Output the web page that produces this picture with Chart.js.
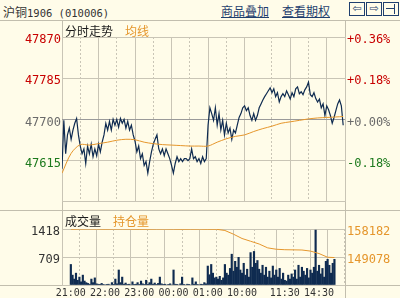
<!DOCTYPE html>
<html>
<head>
<meta charset="utf-8">
<script src="https://cdn.jsdelivr.net/npm/chart.js@4/dist/chart.umd.min.js"></script>
<style>
  body { margin: 0; width: 400px; height: 298px; overflow: hidden; position: relative; background: #fffce9; font-family: "Noto Sans CJK SC", sans-serif; }
  .abs { position: absolute; }
  .hl { position: absolute; left: 0; width: 400px; height: 1px; background: #c2beae; }
  .vl { position: absolute; width: 1px; background: #c2beae; }
  .cjk { font-size: 12px; line-height: 13px; white-space: nowrap; }
  .link { color: #1f3f6e; text-decoration: underline; }
  .icon { position: absolute; top: 2px; width: 14px; height: 12px; border: 1px solid #1f3f6e; color: #1f3f6e; font: 11px/12px "DejaVu Sans", sans-serif; text-align: center; }
  canvas { position: absolute; left: 0; }
</style>
</head>
<body>
<div class="hl" style="top:20px"></div>
<div class="hl" style="top:210px"></div>
<div class="hl" style="top:285px"></div>
<div class="vl" style="left:62px;top:20px;height:266px"></div>
<div class="vl" style="left:345px;top:20px;height:278px"></div>

<div class="abs cjk" style="left:3px;top:5px;color:#333">沪铜<span style="font-family:'DejaVu Sans Mono';font-size:10.5px">1906 (010006)</span></div>
<div class="abs cjk link" style="left:221px;top:4px">商品叠加</div>
<div class="abs cjk link" style="left:282px;top:4px">查看期权</div>
<div class="icon" style="left:349px">⇦</div>
<div class="icon" style="left:366px">⇨</div>
<div class="icon" style="left:383px"><div class="abs" style="left:2px;top:5px;width:8px;height:1px;background:#1f3f6e"></div><div class="abs" style="left:10px;top:1px;width:1px;height:10px;background:#1f3f6e"></div></div>

<canvas id="main" width="400" height="191" style="top:20px"></canvas>
<canvas id="vol" width="400" height="88" style="top:210px"></canvas>

<div class="abs cjk" style="left:65px;top:24px;color:#1a1a1a">分时走势</div>
<div class="abs cjk" style="left:125px;top:24px;color:#e5962c">均线</div>
<div class="abs cjk" style="left:65px;top:214px;color:#1a1a1a">成交量</div>
<div class="abs cjk" style="left:113px;top:214px;color:#e5962c">持仓量</div>

<script>
// 沪铜1906 分时, one sample every 3 trading minutes (21:00 .. 15:00, 465 minutes)
const STEP = 3;
const PRE_SETTLE = 47700;

const price = [
  47598, 47698, 47629, 47668, 47682, 47659, 47678, 47692, 47702, 47668,
  47645, 47629, 47639, 47609, 47645, 47629, 47649, 47623, 47639, 47625,
  47649, 47633, 47653, 47668, 47692, 47678, 47696, 47678, 47700, 47688,
  47700, 47684, 47702, 47692, 47700, 47682, 47696, 47678, 47688, 47668,
  47655, 47633, 47645, 47619, 47629, 47605, 47613, 47589, 47613, 47633,
  47649, 47659, 47668, 47639, 47629, 47639, 47625, 47639, 47629, 47619,
  47605, 47589, 47609, 47623, 47613, 47619, 47613, 47619, 47619, 47615,
  47619, 47639, 47619, 47623, 47613, 47619, 47609, 47623, 47613, 47619,
  47688, 47724, 47712, 47698, 47724, 47688, 47712, 47678, 47698, 47668,
  47692, 47672, 47682, 47659, 47678, 47672, 47688, 47704, 47712, 47724,
  47728, 47718, 47724, 47708, 47698, 47712, 47698, 47708, 47724, 47732,
  47740, 47747, 47753, 47759, 47765, 47755, 47763, 47747, 47755, 47736,
  47747, 47753, 47747, 47759, 47751, 47742, 47755, 47747, 47763, 47767,
  47753, 47757, 47751, 47761, 47767, 47777, 47751, 47747, 47755, 47743,
  47736, 47742, 47724, 47732, 47708, 47728, 47720, 47708, 47692, 47704,
  47718, 47732, 47740, 47728, 47688
];

const volume = [
  520, 250, 150, 300, 120, 200, 80, 250, 100, 60,
  40, 20, 150, 60, 180, 30, 20, 10, 40, 10,
  0, 10, 20, 0, 60, 20, 150, 30, 380, 60,
  200, 20, 50, 10, 20, 0, 80, 10, 20, 60,
  10, 100, 30, 10, 120, 20, 60, 150, 20, 50,
  10, 40, 200, 30, 10, 20, 0, 10, 30, 0,
  380, 20, 10, 0, 30, 200, 10, 0, 20, 10,
  0, 180, 20, 80, 10, 0, 20, 10, 60, 30,
  480, 260, 520, 300, 180, 200, 150, 220, 120, 180,
  520, 300, 250, 420, 780, 350, 600, 450, 700, 380,
  300, 550, 250, 400, 200, 820, 450, 850, 550, 620,
  400, 300, 500, 250, 450, 200, 350, 180, 480, 250,
  380, 200, 420, 150, 300, 120, 100, 250, 150, 280,
  200, 380, 150, 500, 200, 450, 350, 250, 420, 180,
  380, 300, 450, 1390, 350, 500, 280, 420, 200, 600,
  650, 500, 300, 550, 650
];

// 均线 and 持仓量, read every 15 minutes
const slowMinutes = [0, 15, 30, 45, 60, 75, 90, 105, 120, 135, 150, 165, 180, 195, 210, 225,
  240, 255, 270, 285, 300, 315, 330, 345, 360, 375, 390, 405, 420, 435, 450, 462];
const avgPrice = [47589, 47630, 47648, 47647, 47650, 47653, 47657, 47659, 47658, 47653, 47650, 47648, 47647, 47646, 47645, 47645,
  47645, 47653, 47660, 47665, 47668, 47675, 47681, 47686, 47692, 47695, 47698, 47701, 47703, 47704, 47705, 47706];
const openInt = [158100, 158150, 158182, 158160, 158120, 158150, 158170, 158140, 158100, 158120, 158150, 158160, 158130, 158100, 158120, 158140,
  158100, 158100, 157700, 156500, 155100, 154200, 153300, 152050, 151600, 151450, 151400, 151350, 151000, 150200, 149000, 148900];

const priceTicks = [47530, 47615, 47700, 47785, 47870];
const volTicks = [0, 709, 1418];
const oiTicks = [139974, 149078, 158182];
const gridMinutes = [0, 30, 60, 90, 120, 150, 180, 210, 240, 270, 300, 345, 375, 405, 435, 465];
const labelMinutes = [0, 60, 120, 180, 240, 300, 375, 435];
const timeLabels = ['21:00', '22:00', '23:00', '00:00', '01:00', '10:00', '11:30', '14:30'];

const pricePoints = price.map((v, i) => ({ x: i * STEP, y: v }));
const volPoints = volume.map((v, i) => ({ x: i * STEP, y: v }));
const avgPoints = avgPrice.map((v, i) => ({ x: slowMinutes[i], y: v }));
const oiPoints = openInt.map((v, i) => ({ x: slowMinutes[i], y: v }));

const GRID = '#c9c5b6';
const RED = '#c80000';
const GREEN = '#1d7a1d';
const GRAY = '#6a6a6a';
const ORANGE = '#e5962c';
const NAVY = '#0f2b50';
const MONO = { family: 'DejaVu Sans Mono', size: 12 };

function setTicks(list) {
  return scale => { scale.ticks = list.map(v => ({ value: v })); };
}
function fixWidth(w) {
  return scale => { scale.width = w; };
}
function priceColor(v) {
  if (v > PRE_SETTLE) return RED;
  if (v < PRE_SETTLE) return GREEN;
  return GRAY;
}
const isSolid = v => labelMinutes.includes(v) || v === 465;

function timeAxis(showLabels) {
  return {
    type: 'linear', min: 0, max: 465,
    afterBuildTicks: setTicks(gridMinutes),
    afterFit: s => { s.height = showLabels ? 13 : 0; },
    grid: { color: GRID, lineWidth: 1, drawTicks: false },
    border: { display: false, dash: ctx => (ctx.tick && isSolid(ctx.tick.value)) ? [] : [2, 2] },
    ticks: {
      display: showLabels, autoSkip: false, maxRotation: 0, padding: 2, color: '#333',
      font: { family: 'DejaVu Sans Mono', size: 10 },
      callback: v => { const k = labelMinutes.indexOf(v); return k < 0 ? '' : timeLabels[k]; }
    }
  };
}

const common = {
  animation: false, responsive: false, events: [],
  plugins: { legend: { display: false }, tooltip: { enabled: false } }
};

new Chart(document.getElementById('main'), {
  type: 'line',
  data: {
    datasets: [
      { data: avgPoints, borderColor: ORANGE, borderWidth: 1, pointRadius: 0, tension: 0.3 },
      { data: pricePoints, borderColor: NAVY, borderWidth: 1.2, pointRadius: 0 }
    ]
  },
  options: {
    ...common,
    layout: { padding: { top: 17, bottom: 1, left: 0, right: 0 } },
    scales: {
      x: timeAxis(false),
      y: {
        position: 'left', min: 47530, max: 47870,
        afterBuildTicks: setTicks(priceTicks), afterFit: fixWidth(62),
        grid: { drawTicks: false, color: ctx => ctx.tick && ctx.tick.value === PRE_SETTLE ? '#9a9a9a' : GRID },
        border: { display: false },
        ticks: {
          padding: 1, labelOffset: 3, font: MONO,
          color: ctx => priceColor(ctx.tick.value),
          callback: v => v === 47530 ? '' : String(v)
        }
      },
      yr: {
        position: 'right', min: 47530, max: 47870,
        afterBuildTicks: setTicks(priceTicks), afterFit: fixWidth(55),
        grid: { drawTicks: false, drawOnChartArea: false },
        border: { display: false },
        ticks: {
          padding: 2, labelOffset: 3, font: MONO,
          color: ctx => priceColor(ctx.tick.value),
          callback: v => {
            if (v === 47530) return '';
            const p = (v - PRE_SETTLE) / PRE_SETTLE * 100;
            return (p < 0 ? '-' : '+') + Math.abs(p).toFixed(2) + '%';
          }
        }
      }
    }
  }
});

new Chart(document.getElementById('vol'), {
  data: {
    datasets: [
      { type: 'line', data: oiPoints, yAxisID: 'yo', borderColor: ORANGE, borderWidth: 1, pointRadius: 0, order: 0 },
      { type: 'bar', data: volPoints, yAxisID: 'yv', backgroundColor: NAVY, barThickness: 1.5, order: 1 }
    ]
  },
  options: {
    ...common,
    layout: { padding: { top: 19, bottom: 0, left: 0, right: 0 } },
    scales: {
      x: timeAxis(true),
      yv: {
        position: 'left', min: 0, max: 1418,
        afterBuildTicks: setTicks(volTicks), afterFit: fixWidth(62),
        grid: { drawTicks: false, color: GRID },
        border: { display: false },
        ticks: { padding: 2, labelOffset: 3, font: MONO, color: '#333', callback: v => v === 0 ? '' : String(v) }
      },
      yo: {
        position: 'right', min: 139974, max: 158182,
        afterBuildTicks: setTicks(oiTicks), afterFit: fixWidth(55),
        grid: { drawTicks: false, drawOnChartArea: false },
        border: { display: false },
        ticks: { padding: 2, labelOffset: 3, font: MONO, color: ORANGE, callback: v => v === 139974 ? '' : String(v) }
      }
    }
  }
});
</script>
</body>
</html>
